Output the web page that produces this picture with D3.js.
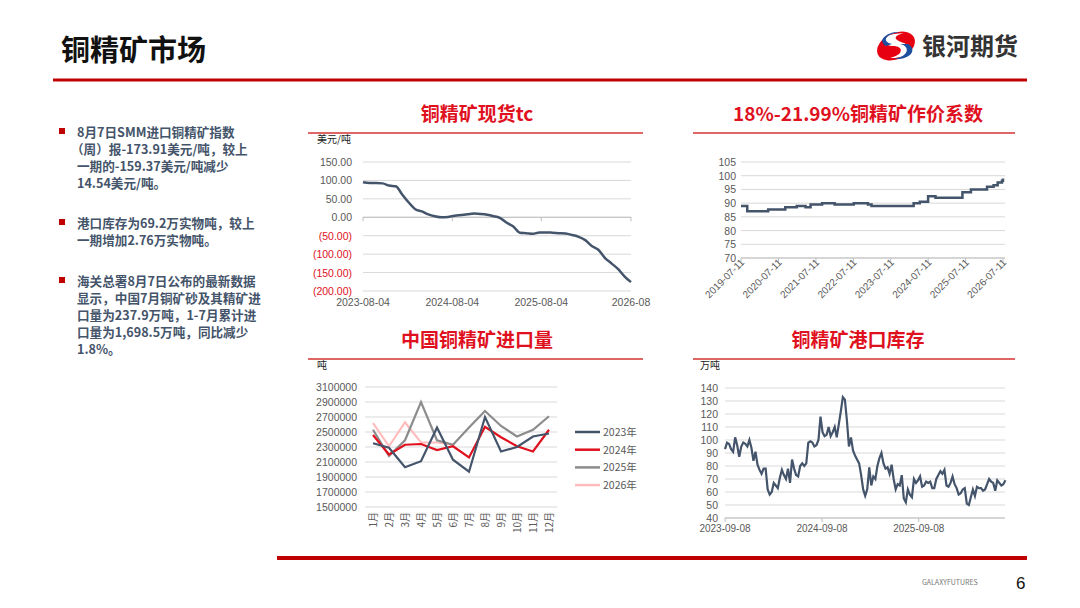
<!DOCTYPE html>
<html>
<head>
<meta charset="utf-8">
<script src="https://cdn.jsdelivr.net/npm/d3@7"></script>
<style>
body{margin:0;background:#fff;}
svg text{font-family:"Noto Sans CJK SC","Noto Sans",sans-serif;}
</style>
</head>
<body>
<svg id="slide" width="1080" height="608"></svg>
<script>
// ---- data ----
// spot TC, roughly monthly from 2023-08 to 2026-08 (USD/t)
var tcValues = [95,93,93,92,86,84,62,40,22,16,8,3,0,1,4,6,8,10,9,7,3,-2,-15,-25,-42,-43,-45,-41,-41,-42,-43,-44,-48,-53,-62,-78,-88,-110,-125,-140,-160,-176];
var tcTicks = ["2023-08-04","2024-08-04","2025-08-04","2026-08"];
var tcYTicks = [150,100,50,0,-50,-100,-150,-200];

// pricing coefficient, step series
var coefDates = ["2019-07-11","2019-09-10","2020-04-01","2020-09-15","2021-01-05","2021-04-01","2021-05-20","2021-09-10","2022-01-10","2022-07-15","2022-12-01","2023-01-05","2023-12-20","2024-02-20","2024-04-20","2024-07-10","2024-09-20","2025-06-10","2025-09-01","2026-02-05","2026-04-10","2026-05-20","2026-07-01","2026-07-11"];
var coefValues = [89,87,87.7,88.5,89,88.5,89.5,90,89.5,90,89.5,89,89,90,90.5,92.5,92,94,95,96,96.5,97.5,98.2,99];
var coefTicks = ["2019-07-11","2020-07-11","2021-07-11","2022-07-11","2023-07-11","2024-07-11","2025-07-11","2026-07-11"];

// monthly imports (t)
var months = ["1月","2月","3月","4月","5月","6月","7月","8月","9月","10月","11月","12月"];
var imp2023 = [2350000,2290000,2030000,2110000,2560000,2130000,1970000,2700000,2240000,2300000,2440000,2480000];
var imp2024 = [2460000,2200000,2330000,2340000,2260000,2310000,2160000,2570000,2430000,2310000,2240000,2530000];
var imp2025 = [2530000,2180000,2390000,2900000,2390000,2330000,2560000,2780000,2580000,2440000,2530000,2710000];
var imp2026 = [2620000,2310000,2630000,2360000,2360000,2330000];
var impYears = ["2023年","2024年","2025年","2026年"];

// port inventory (10k t), weekly-ish from 2023-09-08
var invValues = [93,98,97,93,91,102,96,87,95,98,97,95,100,94,84,91,81,77,74,78,78,62,58,60,67,65,63,71,77,73,70,78,67,85,78,73,72,80,82,80,82,98,99,98,95,96,100,118,106,103,104,110,103,106,110,102,112,122,133,131,115,95,102,92,88,85,82,73,62,57,62,79,65,72,70,80,86,90,82,78,79,74,81,70,62,66,65,73,55,52,62,58,56,70,67,69,72,64,65,68,67,68,63,63,70,73,76,74,77,65,64,67,72,66,63,58,59,62,63,51,50,56,62,57,64,63,63,61,62,66,70,68,67,61,69,67,65,66,69];
var invTicks = ["2023-09-08","2024-09-08","2025-09-08"];

var bullets = [
  ["8月7日SMM进口铜精矿指数","（周）报-173.91美元/吨，较上","一期的-159.37美元/吨减少","14.54美元/吨。"],
  ["港口库存为69.2万实物吨，较上","一期增加2.76万实物吨。"],
  ["海关总署8月7日公布的最新数据","显示，中国7月铜矿砂及其精矿进","口量为237.9万吨，1-7月累计进","口量为1,698.5万吨，同比减少","1.8%。"]
];

var RED = "#c00000", NAVY = "#44546a", GRID = "#d9d9d9", TXT = "#595959";
var svg = d3.select("#slide");
var parse = d3.timeParse("%Y-%m-%d");

// ---- header ----
svg.append("text").attr("x",61).attr("y",61).attr("font-size",29).attr("font-weight","bold").attr("fill","#111").text("铜精矿市场");
svg.append("rect").attr("x",53).attr("y",78.5).attr("width",974).attr("height",3).attr("fill",RED);
var logo = svg.append("g").attr("transform","translate(896,46)");
logo.append("ellipse").attr("rx",20).attr("ry",13).attr("transform","rotate(-25)").attr("fill","#e60012");
logo.append("path").attr("d","M-2,-12 C-14,-10 -14,0 -3,0 C8,0 8,9 -6,12 C12,13 20,2 8,-3 C-2,-6 -4,-10 8,-13 Z").attr("fill","#fff");
logo.append("path").attr("d","M4,-2 C14,0 14,10 -2,13 C14,14 22,4 12,-2 Z").attr("fill","#1d4fa0");
logo.append("path").attr("d","M-4,-2 C-14,-4 -12,-12 4,-14 C-8,-15 -20,-6 -10,0 Z").attr("fill","#1d4fa0");
svg.append("text").attr("x",922).attr("y",55).attr("font-size",24).attr("font-weight","bold").attr("fill","#333").text("银河期货");

// ---- footer ----
svg.append("rect").attr("x",277).attr("y",556).attr("width",750).attr("height",4).attr("fill",RED);
svg.append("text").attr("x",922).attr("y",585).attr("font-size",7).attr("font-family","Liberation Serif").attr("fill","#777").text("GALAXYFUTURES");
svg.append("text").attr("x",1016).attr("y",589).attr("font-size",17).attr("fill","#111").style("font-family","Liberation Sans").text("6");

// ---- bullets ----
var by = [137,228,286];
bullets.forEach(function(lines,i){
  svg.append("rect").attr("x",59).attr("y",by[i]-9).attr("width",6).attr("height",6).attr("fill",RED);
  lines.forEach(function(l,j){
    svg.append("text").attr("x",l.charAt(0)=="（"?71:77).attr("y",by[i]+j*17).attr("font-size",12.6).attr("font-weight","bold").attr("fill","#44546a").text(l);
  });
});

function panelTitle(cx,y,x0,x1,t){
  svg.append("text").attr("x",cx).attr("y",y).attr("text-anchor","middle").attr("font-size",19).attr("font-weight","bold").attr("fill","#e0111e").text(t);
  svg.append("line").attr("x1",x0).attr("x2",x1).attr("y1",y+12).attr("y2",y+12).attr("stroke","#e06666").attr("stroke-width",2);
}
function yGrid(g,y,ticks,x0,x1,fmt,lx,colorFn){
  ticks.forEach(function(t){
    g.append("line").attr("x1",x0).attr("x2",x1).attr("y1",y(t)).attr("y2",y(t)).attr("stroke",GRID).attr("stroke-width",1);
    g.append("text").attr("x",lx).attr("y",y(t)+4).attr("text-anchor","end").attr("font-size",10.5).style("font-family","Liberation Sans").attr("fill",colorFn?colorFn(t):TXT).text(fmt(t));
  });
}

// ---- chart 1: spot TC ----
(function(){
  panelTitle(477,121,308,643,"铜精矿现货tc");
  svg.append("text").attr("x",317).attr("y",143).attr("font-size",10).attr("fill","#222").text("美元/吨");
  var d0 = parse("2023-08-04"), d1 = parse("2026-08-07");
  var x = d3.scaleTime().domain([d0,d1]).range([363,631]);
  var y = d3.scaleLinear().domain([-200,150]).range([291,162]);
  var g = svg.append("g");
  yGrid(g,y,tcYTicks,363,631,function(t){return t<0?"("+d3.format(".2f")(-t)+")":d3.format(".2f")(t);},352,function(t){return t<0?"#e0111e":TXT;});
  g.append("line").attr("x1",363).attr("x2",631).attr("y1",y(0)).attr("y2",y(0)).attr("stroke","#bfbfbf");
  var ts = d3.scaleLinear().domain([0,tcValues.length-1]).range([+d0,+d1]);
  var pts = tcValues.map(function(v,i){return [new Date(ts(i)),v];});
  g.append("path").datum(pts).attr("fill","none").attr("stroke",NAVY).attr("stroke-width",2.5)
    .attr("d",d3.line().x(function(d){return x(d[0]);}).y(function(d){return y(d[1]);}).curve(d3.curveMonotoneX));
  tcTicks.forEach(function(t,i){
    var dt = i<3?parse(t):d1;
    g.append("line").attr("x1",x(dt)).attr("x2",x(dt)).attr("y1",y(0)).attr("y2",y(0)+4).attr("stroke","#bfbfbf");
    g.append("text").attr("x",x(dt)).attr("y",306).attr("text-anchor","middle").attr("font-size",10.5).style("font-family","Liberation Sans").attr("fill",TXT).text(t);
  });
})();

// ---- chart 2: coefficient ----
(function(){
  panelTitle(858,121,693,1015,"18%-21.99%铜精矿作价系数");
  var x = d3.scaleTime().domain([parse("2019-07-11"),parse("2026-07-11")]).range([741,1003]);
  var y = d3.scaleLinear().domain([70,105]).range([258,162]);
  var g = svg.append("g");
  yGrid(g,y,d3.range(70,106,5),741,1005,d3.format("d"),736);
  g.append("line").attr("x1",741).attr("x2",1005).attr("y1",258).attr("y2",258).attr("stroke","#bfbfbf");
  var pts = coefDates.map(function(d,i){return [parse(d),coefValues[i]];});
  g.append("path").datum(pts).attr("fill","none").attr("stroke",NAVY).attr("stroke-width",2.5)
    .attr("d",d3.line().x(function(d){return x(d[0]);}).y(function(d){return y(d[1]);}).curve(d3.curveStepAfter));
  coefTicks.forEach(function(t){
    var px = x(parse(t));
    g.append("line").attr("x1",px).attr("x2",px).attr("y1",258).attr("y2",262).attr("stroke","#bfbfbf");
    g.append("text").attr("transform","translate("+(px+4)+",263) rotate(-45)").attr("text-anchor","end").attr("font-size",10).style("font-family","Liberation Sans").attr("fill",TXT).text(t);
  });
})();

// ---- chart 3: imports ----
(function(){
  panelTitle(477,347,308,643,"中国铜精矿进口量");
  svg.append("text").attr("x",317).attr("y",369).attr("font-size",10).attr("fill","#222").text("吨");
  var x = d3.scalePoint().domain(months).range([373,549]);
  var y = d3.scaleLinear().domain([1500000,3100000]).range([507,387]);
  var g = svg.append("g");
  yGrid(g,y,d3.range(1500000,3100001,200000),365,557,d3.format("d"),357);
  var series = [imp2023,imp2024,imp2025,imp2026];
  var cols = [NAVY,"#e0111e","#8c8c8c","#ffbcbc"];
  var line = d3.line().x(function(d,i){return x(months[i]);}).y(function(d){return y(d);});
  [3,2,1,0].forEach(function(k){
    g.append("path").datum(series[k]).attr("fill","none").attr("stroke",cols[k]).attr("stroke-width",2.2).attr("d",line);
  });
  months.forEach(function(m){
    g.append("text").attr("transform","translate("+(x(m)+4)+",512) rotate(-90)").attr("text-anchor","end").attr("font-size",10).attr("fill",TXT).text(m);
  });
  impYears.forEach(function(yr,i){
    var ly = 432+i*17.7;
    g.append("line").attr("x1",575).attr("x2",600).attr("y1",ly).attr("y2",ly).attr("stroke",cols[i]).attr("stroke-width",2.5);
    g.append("text").attr("x",603).attr("y",ly+4).attr("font-size",10.5).attr("fill",TXT).text(yr);
  });
})();

// ---- chart 4: port inventory ----
(function(){
  panelTitle(858,347,693,1015,"铜精矿港口库存");
  svg.append("text").attr("x",700).attr("y",369).attr("font-size",10).attr("fill","#222").text("万吨");
  var d0 = parse("2023-09-08"), d1 = parse("2026-08-01");
  var x = d3.scaleTime().domain([d0,parse("2024-09-08")]).range([725,822]);
  var y = d3.scaleLinear().domain([40,140]).range([518,388]);
  var g = svg.append("g");
  yGrid(g,y,d3.range(40,141,10),725,1005,d3.format("d"),718);
  g.append("line").attr("x1",725).attr("x2",1005).attr("y1",518).attr("y2",518).attr("stroke","#bfbfbf");
  var ts = d3.scaleLinear().domain([0,invValues.length-1]).range([+d0,+d1]);
  var pts = invValues.map(function(v,i){return [new Date(ts(i)),v];});
  g.append("path").datum(pts).attr("fill","none").attr("stroke",NAVY).attr("stroke-width",2.2)
    .attr("d",d3.line().x(function(d){return x(d[0]);}).y(function(d){return y(d[1]);}));
  invTicks.forEach(function(t){
    var px = x(parse(t));
    g.append("line").attr("x1",px).attr("x2",px).attr("y1",518).attr("y2",522).attr("stroke","#bfbfbf");
    g.append("text").attr("x",px).attr("y",532).attr("text-anchor","middle").attr("font-size",10).style("font-family","Liberation Sans").attr("fill",TXT).text(t);
  });
})();
</script>
</body>
</html>
